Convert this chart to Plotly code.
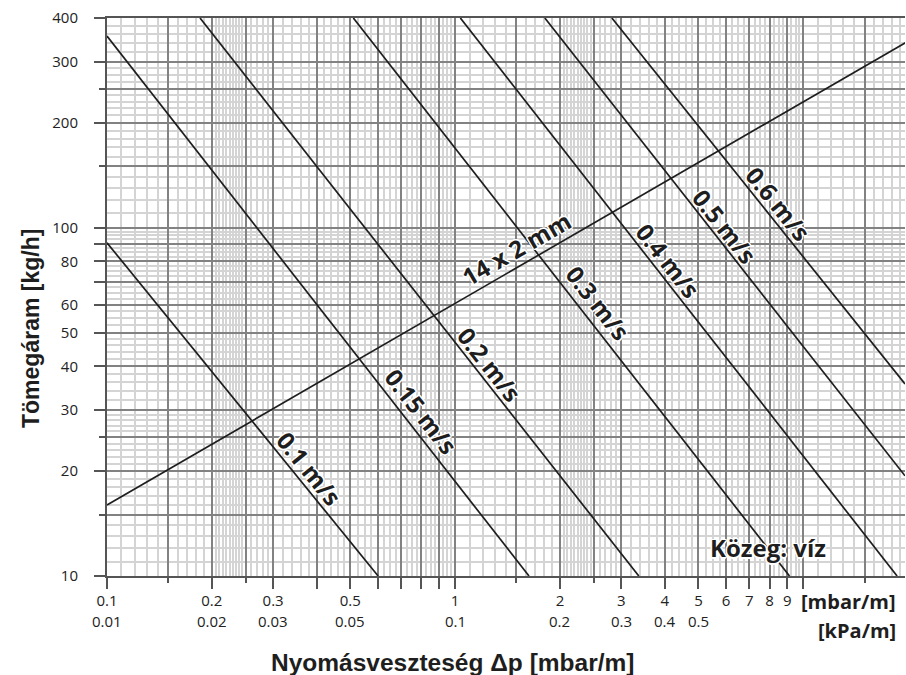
import numpy as np
import plotly.graph_objects as go

# ---------------- data ----------------
velocity_labels = ["0.1 m/s", "0.15 m/s", "0.2 m/s", "0.3 m/s", "0.4 m/s", "0.5 m/s", "0.6 m/s"]
vel_dp_start = [0.1, 0.1, 0.185, 0.51, 1.035, 1.81, 2.82]
vel_m_start = [90.5, 355, 400, 400, 400, 400, 400]
vel_dp_end = [0.601, 1.63, 3.37, 9.13, 18.6, 19.6, 19.6]
vel_m_end = [10, 10, 10, 10, 10, 19.4, 35.6]
vel_label_dp = [0.381, 0.80, 1.26, 2.57, 4.09, 5.97, 8.47]
vel_label_m = [20.3, 29.6, 40.6, 60.9, 80.4, 101, 117]

pipe_label = "14 x 2 mm"
pipe_dp = [0.1, 19.77]
pipe_m = [16.0, 340.8]
pipe_label_dp = 1.497
pipe_label_m = 87

medium_label = "Közeg: víz"
medium_dp = 7.9
medium_m = 12.1

x_ticks_mbar = [0.1, 0.2, 0.3, 0.4, 0.5, 0.6, 0.7, 0.8, 0.9, 1, 2, 3, 4, 5, 6, 7, 8, 9, 10]
x_ticks_mbar_text = ["0.1", "0.2", "0.3", "", "0.5", "", "", "", "", "1", "2", "3", "4", "5",
                     "6", "7", "8", "9", ""]
x_ticks_kpa = [0.1, 0.2, 0.3, 0.5, 1, 2, 3, 4, 5]
x_ticks_kpa_text = ["0.01", "0.02", "0.03", "0.05", "0.1", "0.2", "0.3", "0.4", "0.5"]
x_half_ticks = [0.15, 0.25, 1.5, 2.5, 15]
y_ticks = [10, 20, 30, 40, 50, 60, 70, 80, 90, 100, 200, 300, 400]
y_ticks_text = ["10", "20", "30", "40", "50", "60", "", "80", "", "100", "200", "300", "400"]
y_half_ticks = [15, 25, 150, 250]

x_range = [0.1, 19.6]
y_range = [10, 400]

# ---------------- styling ----------------
DARK = "#828282"
LIGHT = "#d4d4d4"
INK = "#1e1e1e"
TICKFONT = dict(family="Open Sans", size=15, color="#222")
LABELFONT = dict(family="Open Sans", size=24, color=INK, weight=700,
                 shadow="1.5px 0 0 #fff, -1.5px 0 0 #fff, 0 1.5px 0 #fff, 0 -1.5px 0 #fff, "
                        "1px 1px 0 #fff, -1px -1px 0 #fff, 1px -1px 0 #fff, -1px 1px 0 #fff")


def fine_grid(segments):
    vals = []
    for a, b, s in segments:
        n = int(round((b - a) / s))
        vals += [round(a + i * s, 4) for i in range(1, n)]
    return vals


light_x = fine_grid([(0.1, 0.15, 0.01), (0.15, 0.2, 0.01), (0.2, 0.25, 0.005), (0.25, 0.3, 0.01),
                     (0.3, 0.4, 0.02), (0.4, 0.5, 0.02), (0.5, 0.6, 0.025), (0.6, 0.7, 0.025),
                     (0.7, 0.8, 0.025), (0.8, 0.9, 0.025), (0.9, 1.0, 0.025),
                     (1, 1.5, 0.1), (1.5, 2, 0.1), (2, 2.5, 0.05), (2.5, 3, 0.1),
                     (3, 4, 0.2), (4, 5, 0.2), (5, 6, 0.25), (6, 7, 0.25), (7, 8, 0.25),
                     (8, 9, 0.25), (9, 10, 0.25), (10, 15, 1), (15, 20, 1)])
light_y = fine_grid([(10, 15, 1), (15, 20, 1), (20, 25, 1), (25, 30, 1), (30, 40, 2), (40, 50, 2),
                     (50, 60, 2.5), (60, 70, 2.5), (70, 80, 2.5), (80, 90, 2.5), (90, 100, 2.5),
                     (100, 150, 10), (150, 200, 10), (200, 250, 10), (250, 300, 12.5),
                     (300, 400, 20)])

lx = [np.log10(v) for v in x_range]
ly = [np.log10(v) for v in y_range]

fig = go.Figure()

for i, lab in enumerate(velocity_labels):
    fig.add_trace(go.Scatter(
        x=[vel_dp_start[i], vel_dp_end[i]], y=[vel_m_start[i], vel_m_end[i]],
        mode="lines", line=dict(color=INK, width=1.7), xaxis="x2", yaxis="y2",
        hoverinfo="skip", name=lab))

fig.add_trace(go.Scatter(x=pipe_dp, y=pipe_m, mode="lines", line=dict(color=INK, width=1.7),
                         xaxis="x2", yaxis="y2", hoverinfo="skip", name=pipe_label))

# invisible trace on the base axes so that they are drawn
fig.add_trace(go.Scatter(x=[x_range[0]], y=[y_range[0]], mode="markers",
                         marker=dict(opacity=0), hoverinfo="skip", showlegend=False))

ann = []
px_per_dec_x = 798 / (lx[1] - lx[0])
px_per_dec_y = 558 / (ly[1] - ly[0])
for i, lab in enumerate(velocity_labels):
    slope = (np.log10(vel_m_end[i]) - np.log10(vel_m_start[i])) * px_per_dec_y / \
            ((np.log10(vel_dp_end[i]) - np.log10(vel_dp_start[i])) * px_per_dec_x)
    ang = -np.degrees(np.arctan(slope))
    ann.append(dict(x=np.log10(vel_label_dp[i]), y=np.log10(vel_label_m[i]), xref="x2", yref="y2",
                    text=lab, showarrow=False, textangle=ang, font=LABELFONT,
                    xanchor="center", yanchor="middle"))
slope_p = (np.log10(pipe_m[1]) - np.log10(pipe_m[0])) * px_per_dec_y / \
          ((np.log10(pipe_dp[1]) - np.log10(pipe_dp[0])) * px_per_dec_x)
ann.append(dict(x=np.log10(pipe_label_dp), y=np.log10(pipe_label_m), xref="x2", yref="y2",
                text=pipe_label, showarrow=False, textangle=-np.degrees(np.arctan(slope_p)),
                font=LABELFONT))
ann.append(dict(x=np.log10(medium_dp), y=np.log10(medium_m), xref="x2", yref="y2",
                text=medium_label, showarrow=False, font=LABELFONT))

for v, t in zip(x_ticks_kpa, x_ticks_kpa_text):
    ann.append(dict(x=np.log10(v), y=-(621 - 576) / 558, xref="x2", yref="paper", text=t,
                    showarrow=False, font=TICKFONT, xanchor="center", yanchor="middle"))

unit_font = dict(family="Open Sans", size=20, color=INK, weight=700)
ann.append(dict(x=(898 - 107) / 798, y=-(601 - 576) / 558, xref="paper", yref="paper",
                text="[mbar/m]", showarrow=False, font=unit_font, xanchor="right",
                yanchor="middle"))
ann.append(dict(x=(898 - 107) / 798, y=-(630 - 576) / 558, xref="paper", yref="paper",
                text="[kPa/m]", showarrow=False, font=unit_font, xanchor="right",
                yanchor="middle"))

title_font = dict(family="Liberation Sans", size=23, color=INK, weight=700)
ann.append(dict(x=(452 - 107) / 798, y=-(662 - 576) / 558, xref="paper", yref="paper",
                text="Nyomásveszteség Δp [mbar/m]", showarrow=False,
                font=dict(title_font, size=24.5),
                xanchor="center", yanchor="middle"))
ann.append(dict(x=-(107 - 31) / 798, y=(576 - 329) / 558, xref="paper", yref="paper",
                text="Tömegáram [kg/h]", showarrow=False, font=title_font, textangle=-90,
                xanchor="center", yanchor="middle"))

common = dict(type="log", zeroline=False, automargin=False)
fig.update_layout(
    width=906, height=675,
    margin=dict(l=107, r=1, t=18, b=99),
    paper_bgcolor="white", plot_bgcolor="white", showlegend=False,
    xaxis=dict(**common, range=lx, tickmode="array", tickvals=x_half_ticks,
               ticks="outside", ticklen=5, tickwidth=1.5, tickcolor="#555",
               showticklabels=False, showgrid=True, gridcolor=DARK, gridwidth=1.6,
               minor=dict(tickmode="array", tickvals=light_x, showgrid=True, gridcolor=LIGHT,
                          gridwidth=1.6, ticks=""),
               showline=True, linecolor="#555", linewidth=1.6, mirror=True),
    yaxis=dict(**common, range=ly, tickmode="array", tickvals=y_half_ticks,
               ticks="outside", ticklen=6, tickwidth=1.5, tickcolor="#555",
               showticklabels=False, showgrid=True, gridcolor=DARK, gridwidth=1.6,
               minor=dict(tickmode="array", tickvals=light_y, showgrid=True, gridcolor=LIGHT,
                          gridwidth=1.6, ticks=""),
               showline=True, linecolor="#555", linewidth=1.6),
    xaxis2=dict(**common, range=lx, overlaying="x", anchor="y2", side="bottom",
                tickmode="array", tickvals=x_ticks_mbar, ticktext=x_ticks_mbar_text,
                ticks="outside", ticklen=12, tickwidth=1.5, tickcolor="#555",
                showgrid=True, gridcolor=DARK, gridwidth=1.6, tickfont=TICKFONT,
                ticklabelstandoff=-1, showline=False),
    yaxis2=dict(**common, range=ly, overlaying="y", anchor="x2", side="left",
                tickmode="array", tickvals=y_ticks, ticktext=y_ticks_text,
                ticks="outside", ticklen=12, tickwidth=1.5, tickcolor="#555",
                showgrid=True, gridcolor=DARK, gridwidth=1.6, tickfont=TICKFONT,
                ticklabelstandoff=13, showline=False),
    annotations=ann,
)

fig.write_html("out.html", config={"displayModeBar": False},
               post_script="document.body.style.margin='0';")
